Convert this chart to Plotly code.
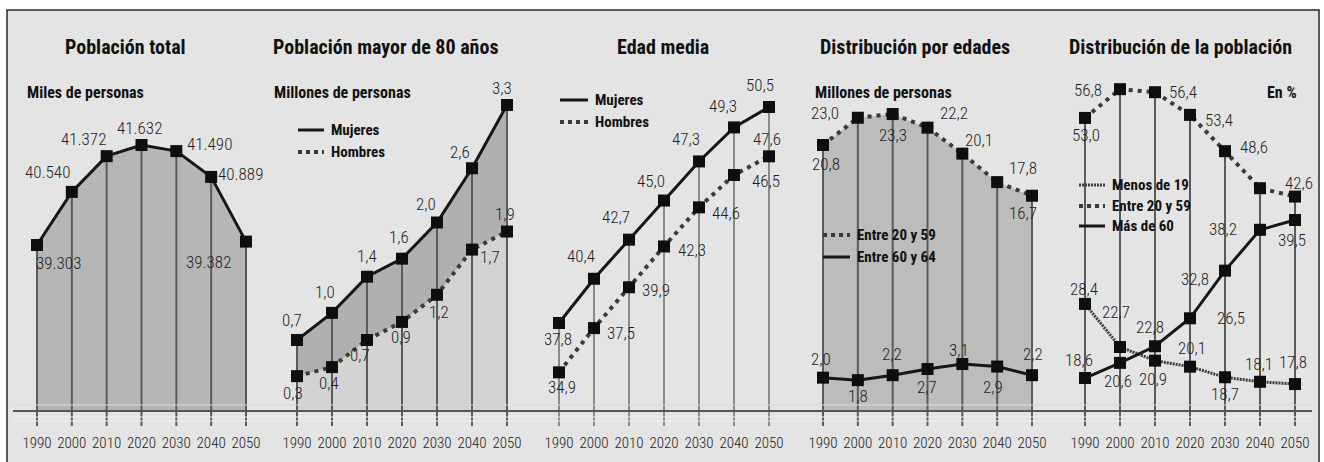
import plotly.graph_objects as go

W, H = 1324, 462

# ---------------------------------------------------------------- data
YEARS = [1990, 2000, 2010, 2020, 2030, 2040, 2050]

# Población total (miles de personas)
POB_TOTAL = [39303, 40540, 41372, 41632, 41490, 40889, 39382]

# Población mayor de 80 años (millones de personas)
MAY80_MUJERES = [0.7, 1.0, 1.4, 1.6, 2.0, 2.6, 3.3]
MAY80_HOMBRES = [0.3, 0.4, 0.7, 0.9, 1.2, 1.7, 1.9]

# Edad media (años)
EDAD_MUJERES = [37.8, 40.4, 42.7, 45.0, 47.3, 49.3, 50.5]
EDAD_HOMBRES = [34.9, 37.5, 39.9, 42.3, 44.6, 46.5, 47.6]

# Distribución por edades (millones de personas)
EDADES_20_59 = [20.8, 23.0, 23.3, 22.2, 20.1, 17.8, 16.7]
EDADES_60_64 = [2.0, 1.8, 2.2, 2.7, 3.1, 2.9, 2.2]

# Distribución de la población (%)
DIST_MENOS_19 = [28.4, 22.7, 20.9, 20.1, 18.7, 18.1, 17.8]
DIST_20_59 = [53.0, 56.8, 56.4, 53.4, 48.6, 43.7, 42.6]
DIST_MAS_60 = [18.6, 20.6, 22.8, 26.5, 32.8, 38.2, 39.5]

TITLES = ["Población total", "Población mayor de 80 años", "Edad media",
          "Distribución por edades", "Distribución de la población"]

# ---------------------------------------------------------------- styling
COND = "Roboto Condensed, Roboto, sans-serif"
BG = "#e4e4e4"
INK = "#161616"
DOT_INK = "#3a3a3a"
VLINE = "#5a5a5a"

# plot area in pixels (top / bottom of every y domain)
PY_TOP, PY_BOT = 55, 432
PY_BASE = 411     # horizontal base line
PY_STEM = 426     # where the vertical year lines end

# per panel: x extent, pixel of 1990 and 2050, y range
PANELS = [
    dict(L=10, R=264, x0=37, x1=246, yr=(34948, 43728), vcol=VLINE),
    dict(L=266, R=528, x0=297, x1=507, yr=(-0.318, 3.853), vcol=VLINE),
    dict(L=530, R=790, x0=559, x1=769, yr=(31.391, 53.557), vcol="#8a8a8a"),
    dict(L=792, R=1052, x0=823, x1=1032, yr=(-2.39, 28.07), vcol=VLINE),
    dict(L=1056, R=1316, x0=1085, x1=1295, yr=(11.46, 61.32), vcol=VLINE),
]


def px_to_val(py, yr):
    return yr[0] + (PY_BOT - py) / (PY_BOT - PY_TOP) * (yr[1] - yr[0])


def fx(px):
    return px / W


def fy(py):
    return 1 - py / H


def dec(v):
    return f"{v:.1f}".replace(".", ",")


def miles(v):
    return f"{v:,}".replace(",", ".")


fig = go.Figure()
annotations = []
shapes = []

layout_axes = {}
for i, p in enumerate(PANELS, start=1):
    s = (p["x1"] - p["x0"]) / (YEARS[-1] - YEARS[0])
    xr = [YEARS[0] - (p["x0"] - p["L"]) / s, YEARS[-1] + (p["R"] - p["x1"]) / s]
    sfx = "" if i == 1 else str(i)
    layout_axes["xaxis" + sfx] = dict(
        domain=[fx(p["L"]), fx(p["R"])], range=xr, anchor="y" + sfx,
        showgrid=False, zeroline=False, showline=False, ticks="",
        tickvals=YEARS, ticktext=[str(y) for y in YEARS],
        tickfont=dict(family=COND, size=15, color="#222", weight=300), fixedrange=True,
    )
    layout_axes["yaxis" + sfx] = dict(
        domain=[fy(PY_BOT), fy(PY_TOP)], range=list(p["yr"]), anchor="x" + sfx,
        visible=False, fixedrange=True,
    )


def ax(i):
    sfx = "" if i == 1 else str(i)
    return "x" + sfx, "y" + sfx


def base_trace(i):
    # invisible line at the base level, used as the lower edge of the fills
    xa, ya = ax(i)
    b = px_to_val(PY_BASE, PANELS[i - 1]["yr"])
    return go.Scatter(x=YEARS, y=[b] * len(YEARS), mode="lines",
                      line=dict(color="rgba(0,0,0,0)", width=1), xaxis=xa, yaxis=ya,
                      showlegend=False, hoverinfo="skip")


def fill_trace(i, vals, color):
    xa, ya = ax(i)
    return go.Scatter(x=YEARS, y=vals, mode="lines", fill="tonexty", fillcolor=color,
                      line=dict(color="rgba(0,0,0,0)", width=1),
                      xaxis=xa, yaxis=ya, showlegend=False, hoverinfo="skip")


def stems(i, tops):
    xa, ya = ax(i)
    p = PANELS[i - 1]
    bot = px_to_val(PY_STEM, p["yr"])
    xs, ys = [], []
    for yv, t in zip(YEARS, tops):
        xs += [yv, yv, None]
        ys += [t, bot, None]
    return go.Scatter(x=xs, y=ys, mode="lines", line=dict(color=p["vcol"], width=2),
                      xaxis=xa, yaxis=ya, showlegend=False, hoverinfo="skip")


def line_style(style):
    if style == "solid":
        return dict(color=INK, width=3)
    if style == "dot":
        return dict(color=DOT_INK, width=4, dash="4px,5px")
    return dict(color="#3c3c3c", width=3, dash="2px,1px")


def series(i, vals, style):
    xa, ya = ax(i)
    return go.Scatter(x=YEARS, y=vals, mode="lines+markers", line=line_style(style),
                      marker=dict(symbol="square", size=12, color="#0e0e0e"),
                      cliponaxis=False, xaxis=xa, yaxis=ya, showlegend=False,
                      hoverinfo="skip")


def labels(i, vals, offsets, fmt=dec):
    xa, ya = ax(i)
    for yv, v, off in zip(YEARS, vals, offsets):
        if off is None:
            continue
        annotations.append(dict(
            x=yv, y=v, xref=xa, yref=ya, text=fmt(v), showarrow=False,
            xshift=off[0], yshift=-off[1], xanchor="center", yanchor="middle",
            font=dict(family=COND, size=17, color="#1e1e1e", weight=300),
        ))


# ---- 1. Población total
fig.add_trace(base_trace(1))
fig.add_trace(fill_trace(1, POB_TOTAL, "#b6b6b6"))
fig.add_trace(stems(1, POB_TOTAL))
fig.add_trace(series(1, POB_TOTAL, "solid"))
labels(1, POB_TOTAL, [(21, 18), (-24, -20), (-23, -17), (-2, -17), (33, -7), (29, -3), (-38, 20)], miles)

# ---- 2. Mayores de 80
fig.add_trace(base_trace(2))
fig.add_trace(fill_trace(2, MAY80_HOMBRES, "#d3d3d3"))
fig.add_trace(fill_trace(2, MAY80_MUJERES, "#b0b0b0"))
fig.add_trace(stems(2, MAY80_MUJERES))
fig.add_trace(series(2, MAY80_HOMBRES, "dot"))
fig.add_trace(series(2, MAY80_MUJERES, "solid"))
labels(2, MAY80_MUJERES, [(-5, -20), (-7, -21), (0, -21), (-3, -22), (-11, -18), (-12, -16), (-5, -17)])
labels(2, MAY80_HOMBRES, [(-4, 17), (-3, 16), (-7, 15), (-1, 15), (2, 17), (18, 7), (-2, -18)])

# ---- 3. Edad media
fig.add_trace(stems(3, EDAD_MUJERES))
fig.add_trace(series(3, EDAD_HOMBRES, "dot"))
fig.add_trace(series(3, EDAD_MUJERES, "solid"))
labels(3, EDAD_MUJERES, [(-1, 16), (-13, -23), (-13, -23), (-13, -20), (-13, -22), (-11, -21), (-9, -22)])
labels(3, EDAD_HOMBRES, [(3, 15), (27, 5), (27, 3), (28, 4), (27, 6), (32, 6), (-2, -17)])

# ---- 4. Distribución por edades
fig.add_trace(base_trace(4))
fig.add_trace(fill_trace(4, EDADES_20_59, "#bcbcbc"))
fig.add_trace(stems(4, EDADES_20_59))
fig.add_trace(series(4, EDADES_60_64, "solid"))
fig.add_trace(series(4, EDADES_20_59, "dot"))
labels(4, EDADES_20_59, [(3, 19), (-33, -5), (0, 21), (26, -15), (17, -14), (26, -14), (-9, 17)])
labels(4, EDADES_60_64, [(-2, -19), (0, 16), (-1, -21), (-1, 18), (-3, -14), (-4, 20), (1, -21)])

# ---- 5. Distribución de la población
fig.add_trace(stems(5, DIST_20_59))
fig.add_trace(series(5, DIST_MENOS_19, "hatch"))
fig.add_trace(series(5, DIST_MAS_60, "solid"))
fig.add_trace(series(5, DIST_20_59, "dot"))
labels(5, DIST_20_59, [(1, 17), (-32, 1), (28, 0), (29, 5), (29, -4), None, (4, -14)])
labels(5, DIST_MAS_60, [(-6, -18), (-2, 18), (-5, -19), (41, 0), (-30, 8), (-37, -1), (-3, 20)])
labels(5, DIST_MENOS_19, [(-1, -15), (-4, -35), (-2, 18), (2, -19), (0, 17), (-1, -18), (-2, -22)])

# ---------------------------------------------------------------- frame and base line
shapes.append(dict(type="rect", xref="paper", yref="paper", x0=fx(7), x1=fx(1319),
                   y0=-0.02, y1=fy(10), fillcolor=BG, line=dict(color="#2a2a2a", width=1.5),
                   layer="below"))
for py, col, w in [(405, "#d8d8d8", 1), (417, "#f0f0f0", 1), (421, "#f0f0f0", 1), (PY_BASE, "#555555", 2)]:
    shapes.append(dict(type="line", xref="paper", yref="paper", x0=fx(13), x1=fx(1312),
                       y0=fy(py), y1=fy(py), line=dict(color=col, width=w), layer="above"))

# ---------------------------------------------------------------- titles and subtitles
title_x = [125, 385, 663, 915, 1180]
for t, cx in zip(TITLES, title_x):
    annotations.append(dict(x=fx(cx), y=fy(47), xref="paper", yref="paper", text=f"<b>{t}</b>",
                            showarrow=False, xanchor="center", yanchor="middle",
                            font=dict(family=COND, size=20, color="#111")))

for txt, px_, anchor in [("Miles de personas", 25, "left"), ("Millones de personas", 272, "left"),
                         ("Millones de personas", 813, "left"), ("En %", 1299, "right")]:
    annotations.append(dict(x=fx(px_), y=fy(92), xref="paper", yref="paper", text=f"<b>{txt}</b>",
                            showarrow=False, xanchor=anchor, yanchor="middle",
                            font=dict(family=COND, size=16, color="#111")))


# ---------------------------------------------------------------- legends
def legend_item(x0, x1, py, style, text):
    line = line_style(style)
    if style == "dot":
        line = dict(line, dash="4px,4px")
    shapes.append(dict(type="line", xref="paper", yref="paper", x0=fx(x0), x1=fx(x1),
                       y0=fy(py), y1=fy(py), line=line, layer="above"))
    annotations.append(dict(x=fx(x1 + 5), y=fy(py), xref="paper", yref="paper", text=f"<b>{text}</b>",
                            showarrow=False, xanchor="left", yanchor="middle",
                            font=dict(family=COND, size=15, color="#111")))


legend_item(298, 324, 130, "solid", "Mujeres")
legend_item(298, 324, 152, "dot", "Hombres")
legend_item(560, 588, 100, "solid", "Mujeres")
legend_item(560, 588, 122, "dot", "Hombres")
legend_item(823, 850, 235, "dot", "Entre 20 y 59")
legend_item(823, 850, 257, "solid", "Entre 60 y 64")
legend_item(1079, 1105, 185, "hatch", "Menos de 19")
legend_item(1079, 1105, 206, "dot", "Entre 20 y 59")
legend_item(1079, 1105, 226, "solid", "Más de 60")

fig.update_layout(
    width=W, height=H, margin=dict(l=0, r=0, t=0, b=0),
    paper_bgcolor="white", plot_bgcolor="rgba(0,0,0,0)",
    showlegend=False, annotations=annotations, shapes=shapes,
    **layout_axes,
)

fig.write_html("out.html")
